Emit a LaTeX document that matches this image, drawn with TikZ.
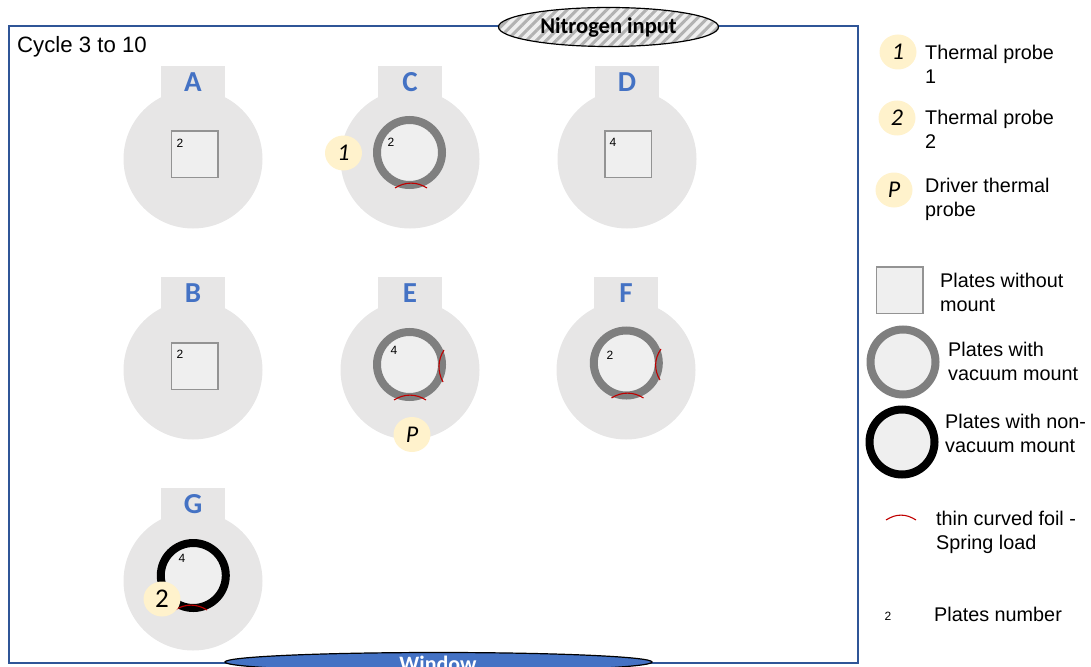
\documentclass[tikz,border=0pt]{standalone}
\usepackage{fontspec}
\setmainfont{Liberation Sans}
\newfontfamily\calfont{Carlito}
\usepackage{xcolor}
\usetikzlibrary{shapes.geometric,patterns.meta}
\definecolor{framecol}{HTML}{2F5597}
\definecolor{bodycol}{HTML}{E7E6E6}
\definecolor{platecol}{HTML}{EFEFEF}
\definecolor{lettercol}{HTML}{4472C4}
\definecolor{probecol}{HTML}{FFF2CC}
\definecolor{foilcol}{HTML}{C00000}
\definecolor{mountcol}{HTML}{7F7F7F}

\begin{document}
\begin{tikzpicture}[x=1pt,y=-1pt,
  disc/.style={circle,fill=bodycol,inner sep=0pt,outer sep=0pt,minimum size=139pt},
  tabrect/.style={rectangle,fill=bodycol,inner sep=0pt,outer sep=0pt,minimum width=64pt,minimum height=46pt},
  letter/.style={text=lettercol,font=\calfont\fontsize{29}{29}\selectfont\bfseries,inner sep=0pt},
  sqplate/.style={rectangle,draw=gray!85,fill=platecol,line width=1.5pt,inner sep=0pt,outer sep=0pt,minimum size=46.5pt},
  ringgray/.style={circle,draw=mountcol,fill=platecol,line width=8pt,inner sep=0pt,outer sep=0pt,minimum size=65pt},
  ringblack/.style={ringgray,draw=black},
  num/.style={font=\fontsize{12}{12}\selectfont,inner sep=0pt},
  probe/.style={ellipse,fill=probecol,inner sep=0pt,outer sep=0pt,minimum width=37pt,minimum height=35pt,font=\calfont\fontsize{24}{24}\selectfont\itshape},
  foil/.style={draw=foilcol,line width=1.1pt},
  lgd/.style={anchor=west,align=left,inner sep=0pt,font=\fontsize{19.8}{24}\selectfont}]
  \useasboundingbox (0,0) rectangle (1091,666);
  % outer chamber
  \draw[framecol,line width=1.2pt] (9,26) rectangle (858,663);
  \node[ellipse,draw=black,line width=1.2pt,preaction={fill=platecol},pattern={Lines[angle=45,distance=7pt,line width=3pt]},pattern color=gray!60,inner sep=0pt,minimum width=220pt,minimum height=39pt] (nitrogen) at (608.5,27) {};
  \node[font=\calfont\fontsize{22.5}{23}\selectfont\bfseries,inner sep=0pt] (nitrogentxt) at (608.5,28) {Nitrogen input};
  \node[ellipse,draw=black,line width=1.2pt,fill=lettercol,inner sep=0pt,minimum width=427pt,minimum height=19pt] (window) at (438.5,662) {};
  \node[text=white,font=\calfont\fontsize{22}{22}\selectfont\bfseries,inner sep=0pt] (windowtxt) at (438,664) {Window};
  \node[anchor=west,inner sep=0pt,font=\fontsize{22.2}{24}\selectfont] (cycle) at (17,47) {Cycle 3 to 10};
  % holders
  \foreach \nm/\x/\y in {A/193/159,B/193/370,C/410/159,D/627/159,E/410/370,F/626/370,G/193/581} {
    \node[tabrect] (tab\nm) at (\x,{\y-70}) {};
    \node[disc] (disc\nm) at (\x,\y) {};
    \node[letter] (let\nm) at (\x,{\y-77}) {\nm};
  }
  % plates
  \node[sqplate] (plateA) at (194.5,154) {};
  \node[sqplate] (plateB) at (194.5,366) {};
  \node[sqplate] (plateD) at (628,154) {};
  \node[ringgray] (plateC) at (409.5,152.5) {};
  \node[ringgray] (plateE) at (409.5,364.5) {};
  \node[ringgray] (plateF) at (626.3,363) {};
  \node[ringblack] (plateG) at (193.3,575.5) {};
  % plate numbers
  \foreach \nm/\x/\y/\t in {A/180/143/2,B/180/354/2,C/391/142/2,D/613/142/4,E/394/350/4,F/610/355/2,G/182/558/4} {
    \node[num] (num\nm) at (\x,\y) {\t};
  }
  % foils
  \foreach \x/\y in {411/188,410/400,627.5/398,191/610} {
    \draw[foil] ({\x-16},\y) .. controls ({\x-6},{\y-6.5}) and ({\x+6},{\y-6.5}) .. ({\x+16},\y);
  }
  \draw[foil] (444,350) .. controls (437.5,360) and (437.5,372) .. (443,382);
  \draw[foil] (661,349) .. controls (654,359) and (654,370) .. (660,380);
  % probes
  \node[probe] (probeC) at (343.5,153) {1};
  \node[probe] (probeE) at (412,434.5) {P};
  \node[probe,font=\calfont\fontsize{27}{27}\selectfont] (probeG) at (162,599) {2};
  % legend
  \node[probe] (key1) at (898,52) {1};
  \node[probe] (key2) at (897,118) {2};
  \node[probe] (keyP) at (894,190) {P};
  \node[lgd] (txt1) at (925,64.5) {Thermal probe\\1};
  \node[lgd] (txt2) at (925,129.5) {Thermal probe\\2};
  \node[lgd] (txtP) at (925,199) {Driver thermal\\probe};
  \node[sqplate] (keysq) at (899.5,290) {};
  \node[lgd] (txtsq) at (940,292.5) {Plates without\\mount};
  \node[ringgray] (keygray) at (903,362) {};
  \node[lgd] (txtgray) at (948,361.5) {Plates with\\vacuum mount};
  \node[ringblack] (keyblack) at (902,442) {};
  \node[lgd] (txtblack) at (945,433.5) {Plates with non-\\vacuum mount};
  \draw[foil] (886,520) .. controls (896,513.5) and (906,513.5) .. (916,520);
  \node[lgd] (txtfoil) at (936,532) {thin curved foil -\\Spring load};
  \node[num] (keynum) at (888,616) {2};
  \node[lgd] (txtnum) at (934,614) {Plates number};
\end{tikzpicture}
\end{document}
